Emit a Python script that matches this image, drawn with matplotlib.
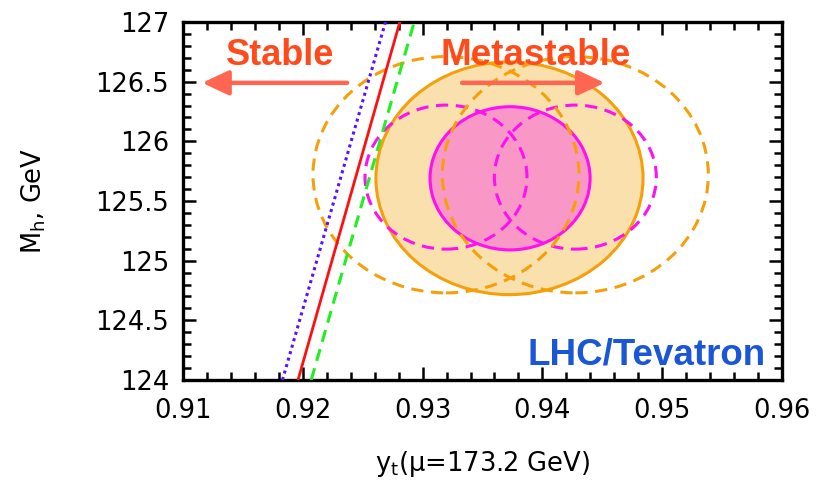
import numpy as np
import matplotlib
matplotlib.use('Agg')
import matplotlib.pyplot as plt
from matplotlib.patches import Ellipse
from matplotlib.ticker import MultipleLocator

# stability boundary lines: (yt at Mh=124, yt at Mh=127)
line_mh = [124, 127]
line_blue = [0.9183, 0.9269]
line_red = [0.9196, 0.9281]
line_green = [0.9207, 0.9293]

# filled ellipses: center x, center y, full width, full height
orange_fill = (0.93725, 125.69, 0.0223, 1.95)
pink_fill = (0.93730, 125.69, 0.01336, 1.20)

# dashed ellipses (shifted left / right)
pink_dashed = [(0.93195, 125.70, 0.01352, 1.207),
               (0.94275, 125.70, 0.01352, 1.207)]
orange_dashed = [(0.93195, 125.72, 0.0222, 1.98),
                 (0.94275, 125.72, 0.0222, 1.98)]

xticks = [0.91, 0.92, 0.93, 0.94, 0.95, 0.96]
yticks = [124, 124.5, 125, 125.5, 126, 126.5, 127]

ORANGE = '#f5a00a'
ORANGE_FILL = '#f9e0ad'
MAGENTA = '#ff10f0'
PINK_FILL = '#f998c6'

fig = plt.figure(figsize=(8.27, 4.83), dpi=100)
ax = fig.add_axes([0.2213, 0.2133, 0.7243, 0.7412])

def ell(p, **kw):
    e = Ellipse((p[0], p[1]), p[2], p[3], **kw)
    ax.add_patch(e)

ell(orange_fill, facecolor=ORANGE_FILL, edgecolor=ORANGE, lw=2.2, zorder=1)
ell(pink_fill, facecolor=PINK_FILL, edgecolor=MAGENTA, lw=2.2, zorder=2)
for p in pink_dashed:
    ell(p, facecolor='none', edgecolor=MAGENTA, lw=2.2, ls=(0, (4, 2.5)), zorder=3)
for p in orange_dashed:
    ell(p, facecolor='none', edgecolor=ORANGE, lw=2.2, ls=(0, (4, 2.5)), zorder=3)

ax.plot(line_blue, line_mh, color='#5a10ff', lw=2.2, ls=(0, (1, 1.2)), zorder=4)
ax.plot(line_red, line_mh, color='#ff1010', lw=2.0, zorder=4)
ax.plot(line_green, line_mh, color='#20f020', lw=2.2, ls=(0, (4, 2.5)), zorder=4)

# annotations
txt_col = '#ff4a1c'
arr_col = '#ff6652'
ax.text(0.9181, 126.72, 'Stable', color=txt_col, fontsize=26, fontweight='bold',
        family='Liberation Sans', ha='center', va='center', zorder=6)
ax.text(0.9394, 126.72, 'Metastable', color=txt_col, fontsize=26.5, fontweight='bold',
        family='Liberation Sans', ha='center', va='center', zorder=6)
arrow_kw = dict(arrowstyle='-|>,head_length=1.6,head_width=0.75', color=arr_col, lw=3.2,
                shrinkA=0, shrinkB=0)
ax.annotate('', xy=(0.9116, 126.49), xytext=(0.9237, 126.49), arrowprops=arrow_kw, zorder=6)
ax.annotate('', xy=(0.9452, 126.49), xytext=(0.9333, 126.49), arrowprops=arrow_kw, zorder=6)
ax.text(0.9586, 124.126, 'LHC/Tevatron', color='#1a56d6', fontsize=26.5, fontweight='bold',
        family='Liberation Sans', ha='right', va='baseline', zorder=6)

ax.set_xlim(0.91, 0.96)
ax.set_ylim(124, 127)
ax.set_xticks(xticks)
ax.set_yticks(yticks)
ax.set_xticklabels([f'{v:g}' for v in xticks])
ax.set_yticklabels([f'{v:g}' for v in yticks])
ax.xaxis.set_minor_locator(MultipleLocator(0.002))
ax.yaxis.set_minor_locator(MultipleLocator(0.1))
ax.tick_params(which='both', direction='in', top=True, right=True, labelsize=18.5,
               width=1.8, colors='black')
ax.tick_params(which='major', length=9.5)
ax.tick_params(which='minor', length=5.5)
ax.tick_params(axis='x', which='major', pad=13)
ax.tick_params(axis='y', which='major', pad=10)
for s in ax.spines.values():
    s.set_linewidth(2.4)

ax.set_xlabel(r'y$_\mathregular{t}$($\mathregular{\mu}$=173.2 GeV)', fontsize=18.5, labelpad=18)
ax.set_ylabel(r'M$_\mathregular{h}$, GeV', fontsize=18.5, labelpad=34)

fig.savefig('out.png', dpi=100)
